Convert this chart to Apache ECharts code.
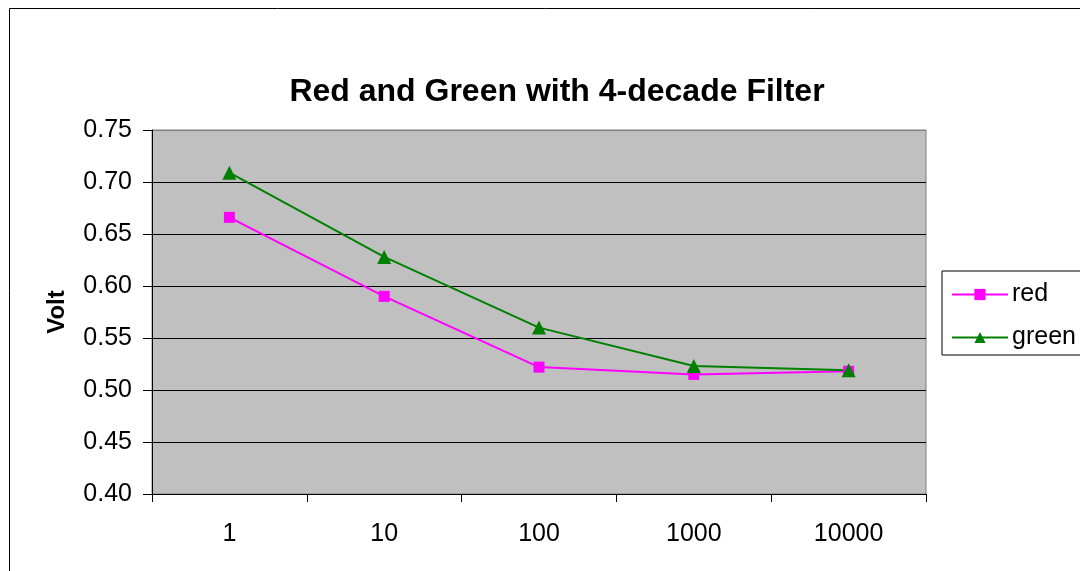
<!DOCTYPE html>
<html lang="en" style="height: 100%">
<head>
  <meta charset="utf-8">
</head>
<body style="height: 100%; margin: 0">
  <div id="container" style="width: 1080px; height: 571px"></div>
  <script type="text/javascript" src="https://cdn.jsdelivr.net/npm/echarts@6/dist/echarts.min.js"></script>
  <script type="text/javascript">
    // data
    var categories = ['1', '10', '100', '1000', '10000'];
    var red = [0.666, 0.590, 0.522, 0.515, 0.518];
    var green = [0.709, 0.628, 0.560, 0.523, 0.519];

    var FONT = 'Liberation Sans, Arial, sans-serif';
    var dom = document.getElementById('container');
    var myChart = echarts.init(dom, null, { renderer: 'canvas' });

    var option = {
      animation: false,
      backgroundColor: '#fff',
      title: {
        text: 'Red and Green with 4-decade Filter',
        left: 552,
        textAlign: 'center',
        top: 71,
        textStyle: { fontFamily: FONT, fontSize: 32, fontWeight: 'bold', color: '#000' }
      },
      graphic: [{
        type: 'rect',
        shape: { x: 9.5, y: 8.5, width: 1100, height: 600 },
        style: { fill: null, stroke: '#000', lineWidth: 1 },
        silent: true
      }],
      legend: {
        orient: 'vertical',
        left: 942,
        top: 271,
        width: 150,
        padding: [11, 20, 5, 9],
        itemGap: 18,
        itemWidth: 56,
        itemHeight: 14,
        borderColor: '#000',
        borderWidth: 1,
        textStyle: { fontFamily: FONT, fontSize: 25, color: '#000', padding: [0, 0, 0, -1] },
        data: ['red', 'green']
      },
      grid: {
        left: 152,
        right: 154,
        top: 130,
        bottom: 77,
        show: true,
        backgroundColor: '#C0C0C0',
        borderColor: '#808080',
        borderWidth: 1
      },
      xAxis: {
        type: 'category',
        data: categories,
        boundaryGap: true,
        axisLine: { lineStyle: { color: '#000', width: 1 } },
        axisTick: { show: true, length: 8, inside: false, lineStyle: { color: '#000' } },
        axisLabel: { fontFamily: FONT, fontSize: 25, color: '#000', margin: 28 },
        splitLine: { show: false }
      },
      yAxis: {
        type: 'value',
        min: 0.40,
        max: 0.75,
        interval: 0.05,
        name: 'Volt',
        nameLocation: 'middle',
        nameGap: 83,
        nameTextStyle: { fontFamily: FONT, fontSize: 24, fontWeight: 'bold', color: '#000' },
        axisLine: { show: true, lineStyle: { color: '#000', width: 1 } },
        axisTick: { show: true, length: 9, lineStyle: { color: '#000' } },
        axisLabel: {
          fontFamily: FONT, fontSize: 25, color: '#000', margin: 20,
          formatter: function (v) { return v.toFixed(2); }
        },
        splitLine: {
          show: true,
          lineStyle: {
            color: ['#000', '#000', '#000', '#000', '#000', '#000', '#000', '#808080'],
            width: 1
          }
        }
      },
      series: [
        {
          name: 'red',
          type: 'line',
          data: red,
          color: '#FF00FF',
          symbol: 'rect',
          symbolSize: 11,
          lineStyle: { width: 2, color: '#FF00FF' },
          itemStyle: { color: '#FF00FF' }
        },
        {
          name: 'green',
          type: 'line',
          data: green,
          color: '#008000',
          symbol: 'triangle',
          symbolSize: 14,
          lineStyle: { width: 2, color: '#008000' },
          itemStyle: { color: '#008000' }
        }
      ]
    };

    myChart.setOption(option);
    window.addEventListener('resize', myChart.resize);
  </script>
</body>
</html>
